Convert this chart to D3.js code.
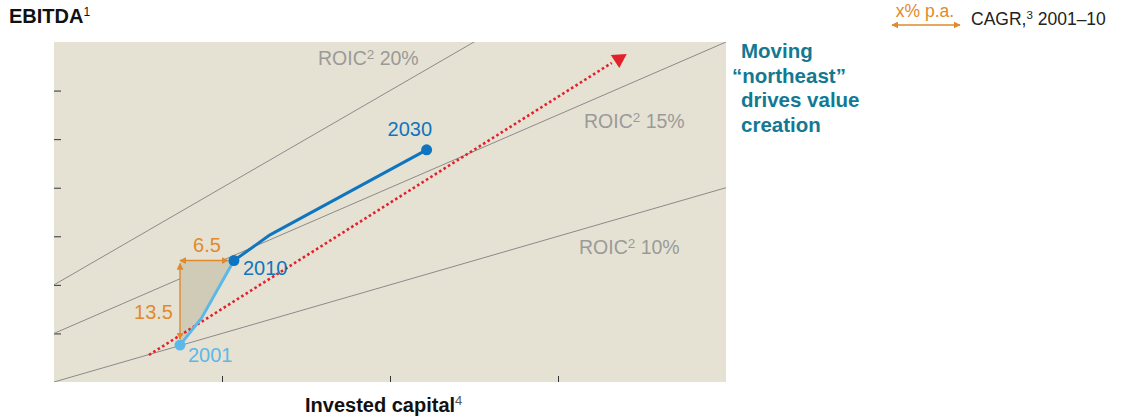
<!DOCTYPE html>
<html><head><meta charset="utf-8">
<script src="https://cdn.jsdelivr.net/npm/d3@7"></script>
<style>
html,body{margin:0;padding:0;background:#fff;}
svg{display:block;font-family:"Liberation Sans",Arial,Helvetica,sans-serif;}
</style></head>
<body><svg id="chart" width="1124" height="419"></svg>
<script>
// ---- data ----
const xTicks = [1, 2, 3];
const yTicks = [1, 2, 3, 4, 5, 6];
const roicNames = ["ROIC", "ROIC", "ROIC"];
const roicPct = ["10%", "15%", "20%"];
const roicIntercepts = [0, 1, 2];
const roicSlopes = [1, 1.5, 2];
const years = ["2001", "2010", "2030"];
const path2001to2010 = [{x: 0.75, y: 0.76}, {x: 0.879, y: 1.32}, {x: 1.071, y: 2.50}];
const path2010to2030 = [{x: 1.071, y: 2.50}, {x: 1.286, y: 3.03}, {x: 2.218, y: 4.78}];
const trend = [{x: 0.565, y: 0.556}, {x: 3.32, y: 6.57}];
const cagrValues = ["6.5", "13.5"];
const calloutLines = ["Moving", "\u201Cnortheast\u201D", "drives value", "creation"];

// ---- layout ----
const svg = d3.select("#chart");
const x = d3.scaleLinear().domain([0, 4]).range([54, 726]);
const y = d3.scaleLinear().domain([0, 7]).range([382, 42]);
const bg = "#e6e2d3", lightBlue = "#5cb8e8", darkBlue = "#0f75bf",
      orange = "#e08a2c", red = "#e3212b", teal = "#137993", grey = "#9a9a9a";

const defs = svg.append("defs");
defs.append("clipPath").attr("id", "plotclip")
  .append("rect").attr("x", x(0)).attr("y", y(7)).attr("width", x(4) - x(0)).attr("height", y(0) - y(7));
function arrowMarker(id, auto) {
  defs.append("marker").attr("id", id).attr("viewBox", "0 0 10 10")
    .attr("refX", 9).attr("refY", 5).attr("markerWidth", 7).attr("markerHeight", 7)
    .attr("markerUnits", "userSpaceOnUse").attr("orient", auto)
    .append("path").attr("d", "M0,0 L10,5 L0,10 Z").attr("fill", orange);
}
arrowMarker("arrEnd", "auto");
arrowMarker("arrStart", "auto-start-reverse");

// background
svg.append("rect").attr("x", x(0)).attr("y", y(7)).attr("width", x(4) - x(0)).attr("height", y(0) - y(7)).attr("fill", bg);

// axes ticks (inside)
const yAxis = d3.axisRight(y).tickValues(yTicks).tickSize(7).tickFormat("");
svg.append("g").attr("transform", `translate(${x(0)},0)`).call(yAxis)
  .call(g => g.select(".domain").remove())
  .call(g => g.selectAll("line").attr("stroke", "#333").attr("stroke-width", 1));
const xAxis = d3.axisTop(x).tickValues(xTicks).tickSize(6).tickFormat("");
svg.append("g").attr("transform", `translate(0,${y(0)})`).call(xAxis)
  .call(g => g.select(".domain").remove())
  .call(g => g.selectAll("line").attr("stroke", "#333").attr("stroke-width", 1));

// ROIC lines
const plot = svg.append("g").attr("clip-path", "url(#plotclip)");
roicIntercepts.forEach((b, i) => {
  const m = roicSlopes[i];
  plot.append("line")
    .attr("x1", x(0)).attr("y1", y(b))
    .attr("x2", x(4)).attr("y2", y(b + m * 4))
    .attr("stroke", "#8a8a8a").attr("stroke-width", 1);
});
const roicLabelPos = [[579, 254], [584, 128], [318, 65]];
roicIntercepts.forEach((b, i) => {
  const t = svg.append("text").attr("x", roicLabelPos[i][0]).attr("y", roicLabelPos[i][1])
    .attr("fill", grey).attr("font-size", 19.5);
  t.append("tspan").text(roicNames[i]);
  t.append("tspan").attr("font-size", 13.5).attr("dy", -6).text("2");
  t.append("tspan").attr("dy", 6).text(" " + roicPct[i]);
});

// shaded triangle
const line = d3.line().x(d => x(d.x)).y(d => y(d.y));
const p0 = path2001to2010[0], p1 = path2001to2010[path2001to2010.length - 1];
svg.append("path").attr("d", line([{x: p0.x, y: p1.y}, p1, path2001to2010[1], p0]) + "Z")
  .attr("fill", "#cfcbb6");

// trend (red dotted arrow)
svg.append("path").attr("d", line(trend)).attr("fill", "none")
  .attr("stroke", red).attr("stroke-width", 2.6).attr("stroke-dasharray", "2.6 2.6");
const te = trend[1];
const tx = x(te.x), ty = y(te.y);
svg.append("path")
  .attr("d", `M${tx - 1},${ty - 8} L${tx + 15},${ty - 9} L${tx + 7.5},${ty + 5} Z`)
  .attr("fill", red);

// CAGR arrows
svg.append("line").attr("x1", x(p0.x)).attr("y1", y(p1.y)).attr("x2", x(p1.x) - 6).attr("y2", y(p1.y))
  .attr("stroke", orange).attr("stroke-width", 1.4)
  .attr("marker-start", "url(#arrStart)").attr("marker-end", "url(#arrEnd)");
svg.append("line").attr("x1", x(p0.x)).attr("y1", y(p1.y) + 3).attr("x2", x(p0.x)).attr("y2", y(p0.y) - 6)
  .attr("stroke", orange).attr("stroke-width", 1.4)
  .attr("marker-start", "url(#arrStart)").attr("marker-end", "url(#arrEnd)");
svg.append("text").attr("x", (x(p0.x) + x(p1.x)) / 2).attr("y", y(p1.y) - 9)
  .attr("text-anchor", "middle").attr("fill", orange).attr("font-size", 20).text(cagrValues[0]);
svg.append("text").attr("x", x(p0.x) - 7).attr("y", 319)
  .attr("text-anchor", "end").attr("fill", orange).attr("font-size", 20).text(cagrValues[1]);

// company path
svg.append("path").attr("d", line(path2001to2010)).attr("fill", "none")
  .attr("stroke", lightBlue).attr("stroke-width", 3).attr("stroke-linejoin", "round");
svg.append("path").attr("d", line(path2010to2030)).attr("fill", "none")
  .attr("stroke", darkBlue).attr("stroke-width", 3).attr("stroke-linejoin", "round");

const pts = [p0, p1, path2010to2030[path2010to2030.length - 1]];
const ptColors = [lightBlue, darkBlue, darkBlue];
svg.selectAll("circle.pt").data(pts).join("circle").attr("class", "pt")
  .attr("cx", d => x(d.x)).attr("cy", d => y(d.y)).attr("r", 5.5)
  .attr("fill", (d, i) => ptColors[i]);
const yrOff = [[8, 17], [9, 14], [-39, -14]];
svg.selectAll("text.yr").data(pts).join("text").attr("class", "yr")
  .attr("x", (d, i) => x(d.x) + yrOff[i][0]).attr("y", (d, i) => y(d.y) + yrOff[i][1])
  .attr("fill", (d, i) => ptColors[i]).attr("font-size", 20)
  .text((d, i) => years[i]);

// callout
const callX = [741, 732, 741, 741];
calloutLines.forEach((s, i) => {
  svg.append("text").attr("x", callX[i]).attr("y", 58 + i * 24.6)
    .attr("fill", teal).attr("font-size", 20.5).attr("font-weight", "bold").text(s);
});

// titles
const t1 = svg.append("text").attr("x", 9).attr("y", 23).attr("font-size", 20).attr("fill", "#111");
t1.append("tspan").attr("font-weight", "bold").text("EBITDA");
t1.append("tspan").attr("font-size", 12).attr("dy", -7).text("1");
const t2 = svg.append("text").attr("x", 305).attr("y", 412).attr("font-size", 20).attr("fill", "#111");
t2.append("tspan").attr("font-weight", "bold").text("Invested capital");
t2.append("tspan").attr("font-size", 13).attr("dy", -7).attr("fill", "#555").text("4");

// legend
svg.append("text").attr("x", 925).attr("y", 17).attr("text-anchor", "middle")
  .attr("fill", orange).attr("font-size", 17.5).text("x% p.a.");
svg.append("line").attr("x1", 892).attr("y1", 25).attr("x2", 960).attr("y2", 25)
  .attr("stroke", orange).attr("stroke-width", 1.4)
  .attr("marker-start", "url(#arrStart)").attr("marker-end", "url(#arrEnd)");
const lg = svg.append("text").attr("x", 971).attr("y", 25).attr("font-size", 17.5).attr("fill", "#222");
lg.append("tspan").text("CAGR,");
lg.append("tspan").attr("font-size", 11.5).attr("dy", -6).text("3");
lg.append("tspan").attr("dy", 6).text(" 2001\u201310");
</script></body></html>
